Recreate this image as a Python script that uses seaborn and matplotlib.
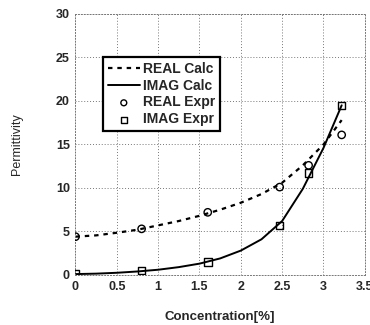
import matplotlib
matplotlib.use("Agg")
import matplotlib.pyplot as plt
import seaborn as sns
import pandas as pd

# Calculated curves
calc_x = [0.0, 0.25, 0.5, 0.75, 1.0, 1.25, 1.5, 1.75, 2.0, 2.25, 2.5, 2.75, 3.0, 3.22]
real_calc = [4.4, 4.55, 4.85, 5.2, 5.7, 6.2, 6.8, 7.5, 8.3, 9.3, 10.6, 12.6, 15.0, 17.8]
imag_calc = [0.1, 0.15, 0.25, 0.4, 0.6, 0.9, 1.3, 1.9, 2.8, 4.1, 6.2, 9.9, 14.6, 19.5]

# Experimental points
expr_x = [0.0, 0.8, 1.6, 2.47, 2.82, 3.22]
real_expr = [4.4, 5.3, 7.2, 10.1, 12.6, 16.1]
imag_expr = [0.1, 0.5, 1.5, 5.7, 11.7, 19.5]

xticks = [0, 0.5, 1, 1.5, 2, 2.5, 3, 3.5]
xtick_labels = ["0", "0.5", "1", "1.5", "2", "2.5", "3", "3.5"]
yticks = [0, 5, 10, 15, 20, 25, 30]

sns.set_style("white")
plt.rcParams['font.family'] = ['Liberation Sans', 'DejaVu Sans']

fig = plt.figure(figsize=(3.7, 3.25), dpi=100)
ax = fig.add_axes([0.204, 0.154, 0.782, 0.803])

df_calc = pd.DataFrame({"x": calc_x, "real": real_calc, "imag": imag_calc})
df_expr = pd.DataFrame({"x": expr_x, "real": real_expr, "imag": imag_expr})

sns.lineplot(data=df_calc, x="x", y="real", ax=ax, color="black", lw=1.6,
             linestyle=(0, (2.0, 2.2)), label="REAL Calc")
sns.lineplot(data=df_calc, x="x", y="imag", ax=ax, color="black", lw=1.4,
             label="IMAG Calc")
sns.scatterplot(data=df_expr, x="x", y="real", ax=ax, marker="o", s=28,
                facecolor="none", edgecolor="black", linewidth=1.0,
                label="REAL Expr", zorder=5)
sns.scatterplot(data=df_expr, x="x", y="imag", ax=ax, marker="s", s=30,
                facecolor="none", edgecolor="black", linewidth=1.0,
                label="IMAG Expr", zorder=5)

ax.set_xlim(0, 3.5)
ax.set_ylim(0, 30)
ax.set_xticks(xticks)
ax.set_xticklabels(xtick_labels)
ax.set_yticks(yticks)
ax.grid(True, color="#777777", linestyle=(0, (1, 2)), linewidth=0.7)
for s in ax.spines.values():
    s.set_linestyle((0, (1, 2)))
    s.set_color("#777777")
    s.set_linewidth(0.7)
ax.tick_params(axis="both", length=0, labelsize=9, pad=4)
for lab in ax.get_xticklabels() + ax.get_yticklabels():
    lab.set_fontweight("bold")

ax.set_xlabel("Concentration[%]", fontsize=9.5, fontweight="bold", labelpad=13)
ax.set_ylabel("Permittivity", fontsize=9, labelpad=24)

leg = ax.legend(loc="upper left", bbox_to_anchor=(0.095, 0.835), frameon=True,
                fancybox=False, edgecolor="black", framealpha=1,
                prop={"weight": "bold", "size": 10}, handlelength=2.3,
                handletextpad=0.2, borderpad=0.35, labelspacing=0.2,
                borderaxespad=0, markerscale=0.8)
leg.get_frame().set_linewidth(1.6)

fig.savefig("out.png", dpi=100)
